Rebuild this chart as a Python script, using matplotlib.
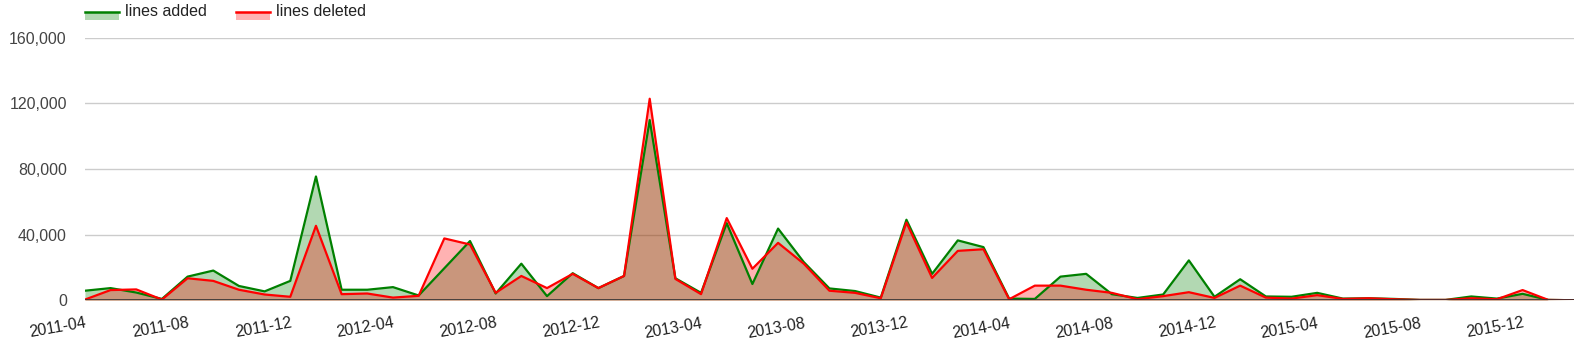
import numpy as np
import matplotlib
matplotlib.use('Agg')
import matplotlib.pyplot as plt
import pandas as pd
from matplotlib.patches import Rectangle
from matplotlib.lines import Line2D
from matplotlib.ticker import FuncFormatter

plt.rcParams['font.family'] = ['Liberation Sans', 'DejaVu Sans']

#monthly data, 2011-04 .. 2016-02
months = pd.date_range('2011-04-01', periods=59, freq='MS').strftime('%Y-%m').tolist()
lines_added = [5800, 7400, 4700, 800, 14400, 18100, 8700, 5400, 11800, 75500,
               6400, 6400, 8000, 2900, 19500, 36100, 4100, 22300, 2500, 16500,
               7400, 14800, 109900, 13400, 4500, 47000, 9900, 43700, 23300, 7200,
               5600, 1600, 49100, 16100, 36500, 32400, 1000, 800, 14400, 16100,
               3700, 1400, 3500, 24300, 2100, 12800, 2300, 2100, 4500, 1000,
               1200, 800, 200, 200, 2300, 1000, 3900, 200, 0]
lines_deleted = [400, 6200, 6600, 400, 13400, 11800, 6400, 3500, 2100, 45400,
                 3700, 4100, 1600, 2700, 37700, 34000, 4500, 14800, 7400, 16100,
                 7400, 14800, 122900, 13000, 3700, 50100, 19200, 35000, 22300, 5800,
                 4500, 1200, 47400, 13600, 30100, 31100, 600, 8900, 8900, 6400,
                 4500, 600, 2500, 4900, 1400, 8900, 1600, 1000, 3100, 800,
                 1200, 600, 200, 200, 1200, 600, 6200, 200, 0]
series_names = ['lines added', 'lines deleted']

x = np.arange(len(months))

fig = plt.figure(figsize=(15.9, 3.6), dpi=100)
ax = fig.add_axes([0.0534, 0.166, 0.9899 - 0.0534, 0.8947 - 0.166])

#areas
ax.fill_between(x, lines_added, 0, color='green', alpha=0.3, lw=0)
ax.fill_between(x, lines_deleted, 0, color='red', alpha=0.3, lw=0)
ax.plot(x, lines_added, color='green', lw=1.6)
ax.plot(x, lines_deleted, color='red', lw=1.6)

ax.set_xlim(0, len(months) - 1)
ax.set_ylim(0, 160000)
ax.set_yticks([0, 40000, 80000, 120000, 160000])
ax.yaxis.set_major_formatter(FuncFormatter(lambda v, p: '{:,.0f}'.format(v)))
ax.grid(axis='y', color='#cccccc', lw=1)
ax.set_axisbelow(True)
ax.axhline(0, color='#333333', lw=1.2, zorder=5)
for s in ax.spines.values():
    s.set_visible(False)

ax.set_xticks(x[::4])
ax.set_xticklabels(months[::4], rotation=10, ha='right', rotation_mode='anchor',
                   fontsize=11.5, color='#222222')
ax.tick_params(axis='x', length=0, pad=11)
ax.tick_params(axis='y', length=0, pad=13, labelsize=11.5, labelcolor='#444444')

#legend
W, H = 1590.0, 360.0
for x0, col, name in [(85, 'green', series_names[0]), (236, 'red', series_names[1])]:
    fig.add_artist(Rectangle((x0 / W, 1 - 20 / H), 34 / W, 8 / H,
                             transform=fig.transFigure, color=col, alpha=0.3, lw=0))
    fig.add_artist(Line2D([x0 / W, (x0 + 34) / W], [1 - 12 / H, 1 - 12 / H],
                          transform=fig.transFigure, color=col, lw=1.8))
    fig.text((x0 + 40) / W, 1 - 12 / H, name, fontsize=11.5, color='#222222',
             va='center', ha='left')

plt.savefig('out.png', dpi=100)
